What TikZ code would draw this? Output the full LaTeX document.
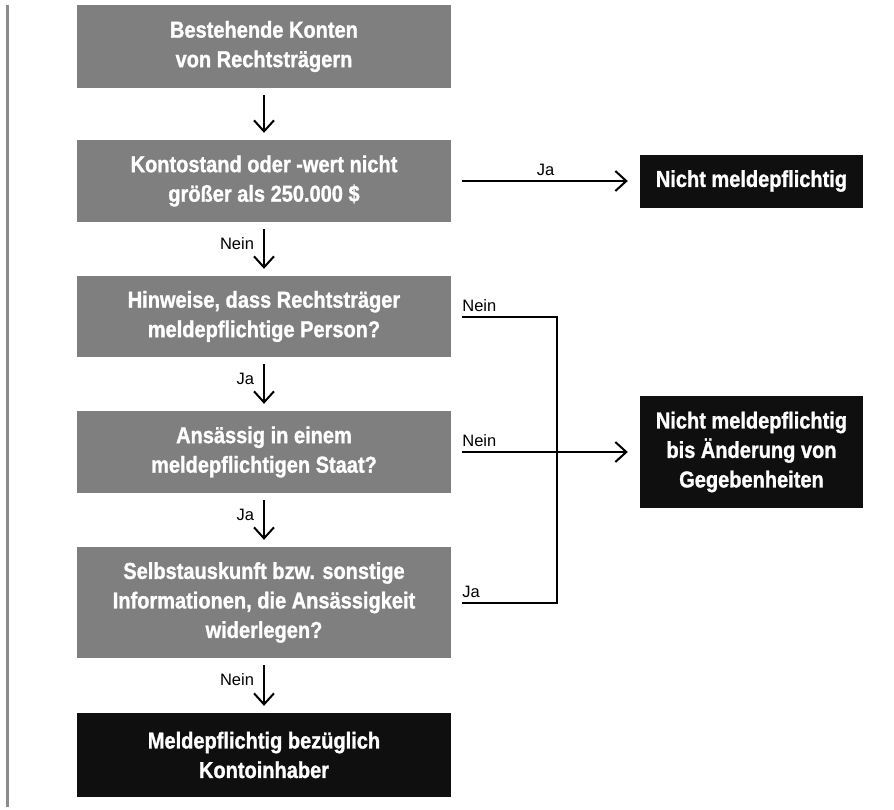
\documentclass[tikz,border=0pt]{standalone}
\usepackage{fontspec}
\setmainfont{Liberation Sans}
\newfontfamily\boxfont{Liberation Sans}[FakeStretch=0.87, FakeBold=1.2]
\usetikzlibrary{arrows.meta}
\definecolor{boxgray}{HTML}{7F7F7F}
\definecolor{boxblack}{HTML}{0F0F0F}
\definecolor{bargray}{HTML}{8C8C8C}

\begin{document}
\begin{tikzpicture}[x=1pt,y=-1pt,
  stepbox/.style={fill=boxgray, text=white, minimum width=374pt, inner sep=0pt,
    align=center, font=\boxfont\bfseries\fontsize{23}{29.5}\selectfont},
  endbox/.style={stepbox, fill=boxblack},
  sidebox/.style={endbox, minimum width=223pt},
  conn/.style={line width=2pt, black},
  arr/.style={conn, -{Straight Barb[length=11pt,width=20pt]}},
  down/.style={arr, shorten <=7pt, shorten >=7pt},
  side/.style={shorten <=11pt, shorten >=12pt},
  lbl/.style={font=\fontsize{16.5}{19}\selectfont, inner sep=0pt}
]
\useasboundingbox (0,0) rectangle (894,809);

% margin rule on the left
\fill[bargray] (5.5,5) rectangle (8.5,807);

% main column
\node[stepbox, minimum height=83pt] (b1) at (264,46.5) {Bestehende Konten\\von Rechtsträgern};
\node[stepbox, minimum height=82pt] (b2) at (264,181) {Kontostand oder -wert nicht\\größer als 250.000 \$};
\node[stepbox, minimum height=81pt] (b3) at (264,316.5) {Hinweise, dass Rechtsträger\\meldepflichtige Person?};
\node[stepbox, minimum height=82pt] (b4) at (264,452) {Ansässig in einem\\meldepflichtigen Staat?};
\node[stepbox, minimum height=111pt] (b5) at (264,602.5) {Selbstauskunft bzw. sonstige\\Informationen, die Ansässigkeit\\widerlegen?};
\node[endbox, minimum height=84pt] (b6) at (264,755) {Meldepflichtig bezüglich\\Kontoinhaber};

% outcomes on the right
\node[sidebox, minimum height=53pt] (r1) at (751.5,181) {Nicht meldepflichtig};
\node[sidebox, minimum height=112pt] (r2) at (751.5,452) {Nicht meldepflichtig\\bis Änderung von\\Gegebenheiten};

% downward flow
\draw[down] (b1.south) -- (b2.north);
\draw[down] (b2.south) -- (b3.north) node[lbl, pos=0.4, left=9pt] {Nein};
\draw[down] (b3.south) -- (b4.north) node[lbl, pos=0.4, left=9pt] {Ja};
\draw[down] (b4.south) -- (b5.north) node[lbl, pos=0.4, left=9pt] {Ja};
\draw[down] (b5.south) -- (b6.north) node[lbl, pos=0.4, left=9pt] {Nein};

% branches to the right
\draw[arr, side] (b2.east) -- (r1.west) node[lbl, midway, anchor=base, yshift=6pt] {Ja};
\draw[arr, side] (b4.east) -- (r2.west);
\node[lbl, anchor=base west] (l4) at ([xshift=11pt, yshift=6pt]b4.east) {Nein};

\coordinate (bus) at (557,452);
\draw[conn, shorten <=11pt, shorten >=11pt] (b3.east) -| (bus) |- (b5.east);
\node[lbl, anchor=base west] (l3) at ([xshift=11pt, yshift=5pt]b3.east) {Nein};
\node[lbl, anchor=base west] (l5) at ([xshift=11pt, yshift=5pt]b5.east) {Ja};
\end{tikzpicture}
\end{document}
